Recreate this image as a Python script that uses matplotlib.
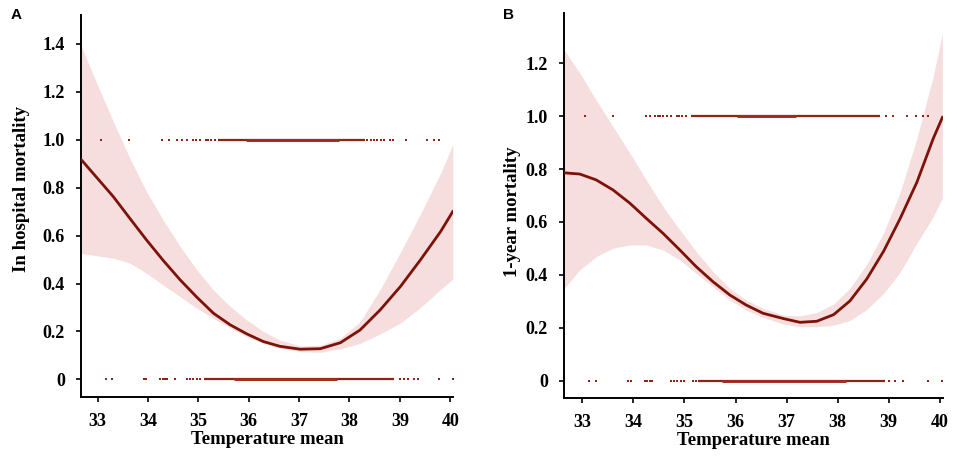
import matplotlib.pyplot as plt
import numpy as np

# Panel A - in hospital mortality
temp_a = [32.65, 32.98, 33.31, 33.64, 33.97, 34.30, 34.64, 34.97, 35.30, 35.63, 35.96, 36.29,
          36.62, 37.02, 37.42, 37.82, 38.21, 38.61, 39.01, 39.41, 39.81, 40.05]
mean_a = [0.923, 0.843, 0.763, 0.672, 0.582, 0.497, 0.415, 0.343, 0.276, 0.228, 0.190, 0.158,
          0.138, 0.126, 0.128, 0.153, 0.206, 0.290, 0.387, 0.499, 0.617, 0.700]
upper_a = [1.404, 1.237, 1.077, 0.923, 0.784, 0.666, 0.554, 0.457, 0.373, 0.305, 0.248, 0.200,
           0.164, 0.140, 0.142, 0.172, 0.240, 0.375, 0.530, 0.690, 0.860, 0.979]
lower_a = [0.526, 0.516, 0.506, 0.485, 0.443, 0.394, 0.345, 0.297, 0.255, 0.215, 0.178, 0.150,
           0.130, 0.116, 0.113, 0.128, 0.150, 0.190, 0.235, 0.300, 0.375, 0.418]

# observed patients (rug at 1 = died, 0 = survived)
died_a = [33.06, 33.63, 34.27, 34.42, 34.57, 34.67, 34.77, 34.90, 34.95, 35.03, 35.15, 35.20,
          35.25, 35.33, 38.35, 38.42, 38.48, 38.55, 38.62, 38.68, 38.80, 38.87, 39.13, 39.53,
          39.67, 39.77]
alive_a = [33.17, 33.28, 33.93, 33.97, 34.24, 34.29, 34.34, 34.38, 34.54, 34.77, 34.83, 34.90,
           34.97, 35.03, 39.01, 39.09, 39.17, 39.29, 39.37, 39.77, 40.06]
# ranges where the points are too dense to separate: (y, from, to)
dense_a = [(1, 35.40, 38.30), (0, 35.12, 38.88)]
core_a = [(1, 35.95, 37.80), (0, 35.70, 37.75)]

# Panel B - 1-year mortality
temp_b = [32.62, 32.95, 33.27, 33.60, 33.93, 34.25, 34.58, 34.91, 35.23, 35.56, 35.89, 36.21,
          36.54, 36.94, 37.26, 37.59, 37.92, 38.24, 38.57, 38.90, 39.22, 39.55, 39.87, 40.05]
mean_b = [0.786, 0.781, 0.759, 0.721, 0.671, 0.614, 0.557, 0.494, 0.431, 0.374, 0.324, 0.286,
          0.255, 0.235, 0.221, 0.225, 0.250, 0.302, 0.385, 0.490, 0.612, 0.750, 0.915, 0.995]
upper_b = [1.257, 1.162, 1.061, 0.960, 0.860, 0.759, 0.658, 0.570, 0.488, 0.412, 0.349, 0.305,
           0.274, 0.248, 0.245, 0.258, 0.290, 0.350, 0.440, 0.560, 0.710, 0.915, 1.150, 1.313]
lower_b = [0.343, 0.419, 0.469, 0.501, 0.513, 0.513, 0.494, 0.456, 0.406, 0.355, 0.305, 0.267,
           0.240, 0.214, 0.205, 0.204, 0.210, 0.228, 0.270, 0.330, 0.410, 0.520, 0.620, 0.690]

died_b = [33.05, 33.60, 34.24, 34.33, 34.42, 34.48, 34.53, 34.58, 34.66, 34.74, 34.85, 34.90,
          34.96, 35.03, 38.95, 39.09, 39.35, 39.54, 39.66, 39.77]
alive_b = [33.14, 33.27, 33.90, 33.96, 34.22, 34.27, 34.32, 34.37, 34.74, 34.80, 34.86, 34.93,
           35.00, 35.17, 35.23, 39.01, 39.12, 39.28, 39.77, 40.05]
dense_b = [(1, 35.13, 38.82), (0, 35.27, 38.92)]
core_b = [(1, 36.02, 37.19), (0, 35.73, 38.17)]

x_ticks = [33, 34, 35, 36, 37, 38, 39, 40]
y_ticks_a = [0, 0.2, 0.4, 0.6, 0.8, 1.0, 1.2, 1.4]
y_labels_a = ["0", "0.2", "0.4", "0.6", "0.8", "1.0", "1.2", "1.4"]
y_ticks_b = [0, 0.2, 0.4, 0.6, 0.8, 1.0, 1.2]
y_labels_b = ["0", "0.2", "0.4", "0.6", "0.8", "1.0", "1.2"]

line_col = "#7d1208"
dot_col = "#8e2418"
band_col = "#f6dede"

fig = plt.figure(figsize=(9.57, 4.57), dpi=100)


def draw_panel(ax, t, m, lo, hi, died, alive, dense, core, yt, yl, xlim, ylim, ylabel, lab_xy):
    ax.fill_between(t, lo, hi, color=band_col, lw=0, zorder=1)
    ax.plot(t, m, color=line_col, lw=2.0, zorder=3, solid_joinstyle="round")
    ax.plot(died, np.ones(len(died)), "s", color=dot_col, ms=1.9, mew=0, zorder=2)
    ax.plot(alive, np.zeros(len(alive)), "s", color=dot_col, ms=1.9, mew=0, zorder=2)
    for y, a, b in dense:
        ax.hlines(y, a, b, color=dot_col, lw=1.6, zorder=2)
    for y, a, b in core:
        ax.hlines(y, a, b, color="#a02c1c", lw=2.1, zorder=2)
    ax.set_xlim(xlim)
    ax.set_ylim(ylim)
    ax.set_xticks(x_ticks)
    ax.set_yticks(yt)
    ax.set_yticklabels(yl)
    for s in ["top", "right"]:
        ax.spines[s].set_visible(False)
    for s in ["left", "bottom"]:
        ax.spines[s].set_linewidth(1.4)
    ax.tick_params(length=3.5, width=1.2, pad=8)
    for lab in ax.get_xticklabels() + ax.get_yticklabels():
        lab.set_fontfamily("Liberation Serif")
        lab.set_fontweight("bold")
        lab.set_fontsize(13)
    ax.set_xlabel("Temperature mean", family="Liberation Serif", weight="bold",
                  fontsize=13.5, labelpad=1)
    ax.set_ylabel(ylabel, family="Liberation Serif", weight="bold", fontsize=13.5)
    ax.yaxis.set_label_coords(*lab_xy)


ax1 = fig.add_axes([0.0846, 0.131, 0.389, 0.836])
draw_panel(ax1, temp_a, mean_a, lower_a, upper_a, died_a, alive_a, dense_a, core_a,
           y_ticks_a, y_labels_a, (32.67, 40.06), (-0.074, 1.52), "In hospital mortality",
           (-0.138, 0.545))

ax2 = fig.add_axes([0.5893, 0.129, 0.396, 0.843])
draw_panel(ax2, temp_b, mean_b, lower_b, upper_b, died_b, alive_b, dense_b, core_b,
           y_ticks_b, y_labels_b, (32.64, 40.06), (-0.065, 1.39), "1-year mortality",
           (-0.114, 0.483))

fig.text(0.0115, 0.967, "A", family="Liberation Sans", weight="bold", fontsize=11, va="center")
fig.text(0.526, 0.967, "B", family="Liberation Sans", weight="bold", fontsize=11, va="center")

fig.savefig("out.png", dpi=100)
